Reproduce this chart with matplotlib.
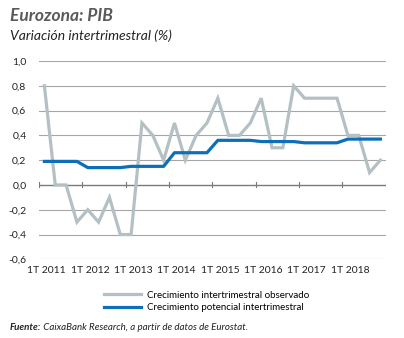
import matplotlib.pyplot as plt
import numpy as np

# quarterly data, 1T 2011 .. 4T 2018
observado = [0.8, 0.0, 0.0, -0.3, -0.2, -0.3, -0.1, -0.4,
             -0.4, 0.5, 0.4, 0.2, 0.5, 0.2, 0.4, 0.5,
             0.7, 0.4, 0.4, 0.5, 0.7, 0.3, 0.3, 0.8,
             0.7, 0.7, 0.7, 0.7, 0.4, 0.4, 0.1, 0.2]
potencial = [0.19, 0.19, 0.19, 0.19, 0.14, 0.14, 0.14, 0.14,
             0.15, 0.15, 0.15, 0.15, 0.26, 0.26, 0.26, 0.26,
             0.36, 0.36, 0.36, 0.36, 0.35, 0.35, 0.35, 0.35,
             0.34, 0.34, 0.34, 0.34, 0.37, 0.37, 0.37, 0.37]
years = ['1T 2011', '1T 2012', '1T 2013', '1T 2014',
         '1T 2015', '1T 2016', '1T 2017', '1T 2018']
yticks = [-0.6, -0.4, -0.2, 0.0, 0.2, 0.4, 0.6, 0.8, 1.0]

plt.rcParams['font.family'] = ['Lato', 'DejaVu Sans']

fig = plt.figure(figsize=(4.04, 3.38), dpi=100)
ax = fig.add_axes([0.0965, 0.2328, 0.8585, 0.5867])

x = np.arange(len(observado))
ax.plot(x, observado, color='#b4c0c4', lw=2.3, solid_joinstyle='miter',
        label='Crecimiento intertrimestral observado')
ax.plot(x, potencial, color='#0d6fb8', lw=2.3,
        label='Crecimiento potencial intertrimestral')

ax.set_xlim(-0.5, len(x) - 0.5)
ax.set_ylim(-0.6, 1.0)

# grid
for yv in yticks:
    if yv != 0:
        ax.axhline(yv, color='#a6a6a6', lw=0.8, zorder=0)
ax.axhline(0, color='#7a7a7a', lw=1.0, zorder=1)

for s in ax.spines.values():
    s.set_visible(False)

ax.set_yticks(yticks)
ax.set_yticklabels([('%.1f' % v).replace('.', ',') for v in yticks],
                   fontsize=7.5, color='#222222')
ax.tick_params(axis='y', length=0, pad=9)

# year ticks on the zero line
ax.set_xticks(np.arange(-0.5, len(x), 4))
ax.set_xticklabels([])
ax.tick_params(axis='x', length=0)
for xt in np.arange(-0.5, len(x), 4):
    ax.plot([xt, xt], [-0.015, 0.02], color='#7a7a7a', lw=0.8, zorder=1)
for i, lab in enumerate(years):
    ax.text(i * 4 + 0.2, -0.035, lab, transform=ax.get_xaxis_transform(),
            ha='center', va='top', fontsize=7.5, color='#222222')

fig.text(0.025, 0.953, 'Eurozona: PIB', fontsize=12.5, fontweight='bold',
         style='italic', color='#5a5a5a', va='center')
fig.text(0.025, 0.893, 'Variación intertrimestral (%)', fontsize=10,
         style='italic', color='#222222', va='center')

fig.legend(loc='center left', bbox_to_anchor=(0.245, 0.108), frameon=False,
           fontsize=7, handlelength=3.8, handletextpad=0.6,
           labelspacing=0.35, borderpad=0)

t = fig.text(0.025, 0.032, 'Fuente:', fontsize=7, fontweight='bold',
             style='italic', color='#222222', va='center')
ax.annotate(' CaixaBank Research, a partir de datos de Eurostat.',
            xy=(1, 0.5), xycoords=t, va='center', ha='left',
            fontsize=7, style='italic', color='#222222',
            annotation_clip=False)

fig.savefig('out.png', dpi=100)
